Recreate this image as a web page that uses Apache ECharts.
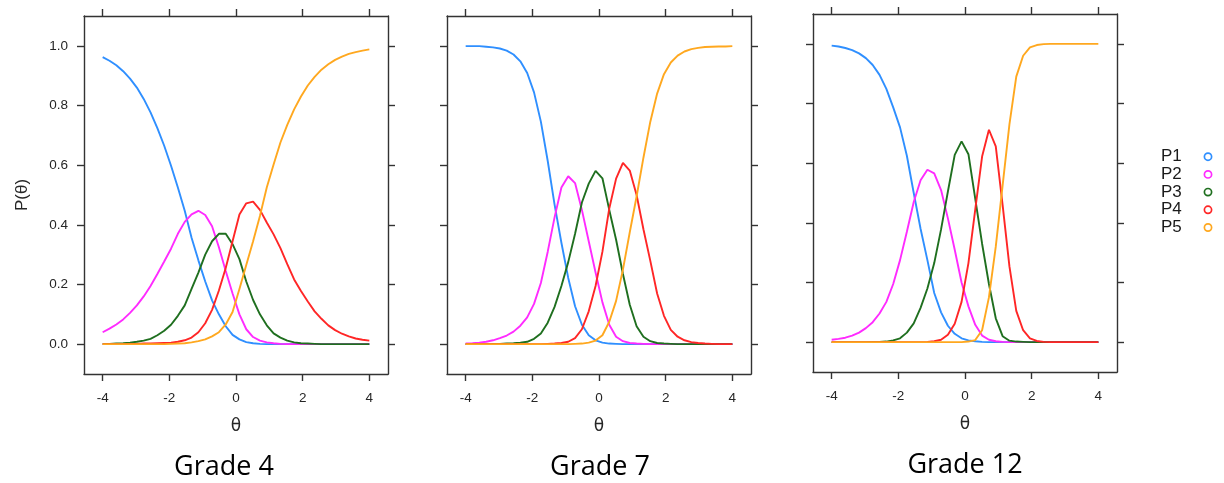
<!DOCTYPE html>
<html><head><meta charset="utf-8">
<script src="https://cdn.jsdelivr.net/npm/echarts@6/dist/echarts.min.js"></script>
<style>html,body{margin:0;padding:0;background:#fff}#c{width:1224px;height:483px}</style>
</head><body><div id="c"></div>
<script>
// theta grid (40 points from -4 to 4)
const theta = [-4.000,-3.795,-3.590,-3.385,-3.179,-2.974,-2.769,-2.564,-2.359,-2.154,-1.949,-1.744,-1.538,-1.333,-1.128,-0.923,-0.718,-0.513,-0.308,-0.103,0.103,0.308,0.513,0.718,0.923,1.128,1.333,1.538,1.744,1.949,2.154,2.359,2.564,2.769,2.974,3.179,3.385,3.590,3.795,4.000];
const xTicks = [-4, -2, 0, 2, 4];
const yTicks = [0, 0.2, 0.4, 0.6, 0.8, 1.0];
const seriesNames = ['P1', 'P2', 'P3', 'P4', 'P5'];
const panelTitles = ['Grade 4', 'Grade 7', 'Grade 12'];
const xTitle = 'θ';
const yTitle = 'P(θ)';

// Grade 4
const g4P1 = [0.962,0.950,0.935,0.915,0.890,0.860,0.822,0.777,0.724,0.665,0.598,0.525,0.447,0.357,0.281,0.210,0.147,0.100,0.060,0.031,0.016,0.007,0.003,0.001,0,0,0,0,0,0,0,0,0,0,0,0,0,0,0,0];
const g4P2 = [0.040,0.052,0.066,0.083,0.105,0.130,0.160,0.195,0.235,0.277,0.320,0.370,0.410,0.435,0.447,0.433,0.395,0.325,0.245,0.170,0.100,0.050,0.024,0.012,0.006,0.003,0.001,0,0,0,0,0,0,0,0,0,0,0,0,0];
const g4P3 = [0.001,0.001,0.002,0.003,0.005,0.008,0.012,0.018,0.030,0.045,0.065,0.095,0.130,0.185,0.240,0.300,0.345,0.370,0.370,0.335,0.285,0.210,0.148,0.100,0.063,0.036,0.022,0.012,0.006,0.003,0.002,0.001,0,0,0,0,0,0,0,0];
const g4P4 = [0,0,0,0,0.001,0.001,0.002,0.002,0.003,0.004,0.005,0.008,0.013,0.022,0.040,0.070,0.115,0.180,0.255,0.345,0.435,0.472,0.478,0.450,0.408,0.368,0.322,0.268,0.217,0.178,0.143,0.110,0.085,0.063,0.047,0.035,0.026,0.019,0.015,0.012];
const g4P5 = [0,0,0,0,0,0,0,0,0,0,0.001,0.002,0.003,0.006,0.010,0.016,0.026,0.040,0.066,0.108,0.185,0.265,0.345,0.430,0.525,0.602,0.676,0.735,0.787,0.830,0.867,0.896,0.920,0.938,0.953,0.964,0.973,0.979,0.984,0.988];

// Grade 7
const g7P1 = [0.999,0.999,0.999,0.997,0.995,0.991,0.984,0.971,0.948,0.909,0.844,0.746,0.614,0.468,0.340,0.222,0.127,0.065,0.030,0.013,0.005,0.002,0.001,0,0,0,0,0,0,0,0,0,0,0,0,0,0,0,0,0];
const g7P2 = [0.002,0.003,0.005,0.008,0.013,0.020,0.029,0.042,0.062,0.090,0.135,0.205,0.310,0.425,0.525,0.563,0.540,0.450,0.345,0.240,0.140,0.065,0.025,0.010,0.004,0.002,0.001,0,0,0,0,0,0,0,0,0,0,0,0,0];
const g7P3 = [0,0,0,0,0.001,0.001,0.002,0.003,0.005,0.008,0.018,0.036,0.072,0.125,0.195,0.275,0.370,0.475,0.538,0.581,0.556,0.450,0.350,0.235,0.132,0.060,0.025,0.010,0.004,0.002,0.001,0,0,0,0,0,0,0,0,0];
const g7P4 = [0,0,0,0,0,0,0,0,0,0,0,0,0.001,0.002,0.004,0.008,0.020,0.050,0.110,0.195,0.310,0.455,0.555,0.608,0.582,0.500,0.385,0.280,0.170,0.095,0.048,0.025,0.013,0.007,0.004,0.002,0.001,0,0,0];
const g7P5 = [0,0,0,0,0,0,0,0,0,0,0,0,0,0,0,0,0.001,0.002,0.005,0.012,0.030,0.075,0.145,0.250,0.375,0.495,0.625,0.745,0.840,0.905,0.944,0.967,0.981,0.989,0.993,0.996,0.997,0.998,0.998,0.999];

// Grade 12
const g12P1 = [0.994,0.991,0.986,0.979,0.968,0.952,0.929,0.896,0.849,0.787,0.720,0.625,0.500,0.380,0.275,0.165,0.100,0.055,0.028,0.013,0.006,0.003,0.001,0,0,0,0,0,0,0,0,0,0,0,0,0,0,0,0,0];
const g12P2 = [0.008,0.011,0.015,0.022,0.032,0.047,0.067,0.096,0.135,0.195,0.275,0.370,0.470,0.543,0.578,0.566,0.510,0.415,0.310,0.200,0.120,0.058,0.022,0.008,0.003,0.001,0,0,0,0,0,0,0,0,0,0,0,0,0,0];
const g12P3 = [0,0,0,0,0,0,0.001,0.001,0.002,0.006,0.013,0.032,0.063,0.115,0.180,0.265,0.378,0.505,0.628,0.673,0.630,0.480,0.330,0.195,0.080,0.020,0.005,0.002,0.001,0,0,0,0,0,0,0,0,0,0,0];
const g12P4 = [0,0,0,0,0,0,0,0,0,0,0,0,0,0,0.001,0.003,0.008,0.025,0.062,0.135,0.265,0.445,0.622,0.712,0.656,0.460,0.254,0.105,0.040,0.013,0.004,0.001,0,0,0,0,0,0,0,0];
const g12P5 = [0,0,0,0,0,0,0,0,0,0,0,0,0,0,0,0,0,0,0,0,0.002,0.007,0.040,0.150,0.320,0.525,0.730,0.890,0.960,0.988,0.996,0.999,1,1,1,1,1,1,1,1];

const panels = [
  [g4P1, g4P2, g4P3, g4P4, g4P5],
  [g7P1, g7P2, g7P3, g7P4, g7P5],
  [g12P1, g12P2, g12P3, g12P4, g12P5]
];

const colors = ['#2f8fff', '#ff2bff', '#1f6f1f', '#ff2626', '#ffa81f'];
const axisColor = '#333333';
const labelFont = 'Liberation Sans';

const gridBoxes = [
  {left: 84, top: 16, width: 304, height: 358},
  {left: 447, top: 16, width: 304, height: 358},
  {left: 813, top: 14, width: 304, height: 358}
];
const titleCenters = [[224, 467], [600, 467], [965, 465]];

const grid = gridBoxes.map(b => Object.assign({show: false, outerBoundsMode: 'none', containLabel: false}, b));
const xAxis = [], yAxis = [], series = [], graphic = [];

gridBoxes.forEach((b, p) => {
  ['bottom', 'top'].forEach(pos => {
    xAxis.push({
      type: 'value', gridIndex: p, position: pos, min: -4.56, max: 4.56,
      axisLine: {show: true, onZero: false, lineStyle: {color: axisColor, width: 1.4}},
      axisTick: {show: true, inside: false, length: 7, customValues: xTicks, lineStyle: {color: axisColor, width: 1.4}},
      axisLabel: {show: pos === 'bottom', customValues: xTicks, margin: 17, color: '#262626',
        fontFamily: labelFont, fontSize: 13.5, formatter: v => String(v)},
      splitLine: {show: false},
      name: pos === 'bottom' ? xTitle : '', nameLocation: 'middle', nameGap: 44,
      nameTextStyle: {color: '#262626', fontFamily: 'DejaVu Sans', fontSize: 17}
    });
  });
  ['left', 'right'].forEach(pos => {
    yAxis.push({
      type: 'value', gridIndex: p, position: pos, min: -0.1, max: 1.1,
      axisLine: {show: true, onZero: false, lineStyle: {color: axisColor, width: 1.4}},
      axisTick: {show: true, inside: false, length: 7, customValues: yTicks, lineStyle: {color: axisColor, width: 1.4}},
      axisLabel: {show: pos === 'left' && p === 0, customValues: yTicks, margin: 16, color: '#262626',
        fontFamily: labelFont, fontSize: 13.5, formatter: v => v.toFixed(1)},
      splitLine: {show: false},
      name: (pos === 'left' && p === 0) ? yTitle : '', nameLocation: 'middle', nameGap: 53,
      nameTextStyle: {color: '#262626', fontFamily: labelFont, fontSize: 17}
    });
  });
  panels[p].forEach((vals, s) => {
    series.push({
      type: 'line', name: seriesNames[s], xAxisIndex: 2 * p, yAxisIndex: 2 * p,
      data: theta.map((t, k) => [t, vals[k]]),
      showSymbol: false, symbol: 'none', smooth: false,
      lineStyle: {color: colors[s], width: 1.9}, itemStyle: {color: colors[s]},
      animation: false
    });
  });
  graphic.push({type: 'text', x: titleCenters[p][0], y: titleCenters[p][1],
    style: {text: panelTitles[p], font: '27px "Open Sans"', fill: '#000',
      align: 'center', verticalAlign: 'middle', textAlign: 'center', textVerticalAlign: 'middle'}});
});

seriesNames.forEach((n, i) => {
  const cy = 156.7 + i * 17.7;
  graphic.push({type: 'text', x: 1161, y: cy,
    style: {text: n, font: '17px "Liberation Sans"', fill: '#1a1a1a',
      align: 'left', verticalAlign: 'middle', textAlign: 'left', textVerticalAlign: 'middle'}});
  graphic.push({type: 'circle', shape: {cx: 1208, cy: cy, r: 3.6},
    style: {fill: 'none', stroke: colors[i], lineWidth: 1.7}});
});

const chart = echarts.init(document.getElementById('c'), null, {renderer: 'canvas'});
chart.setOption({
  animation: false,
  backgroundColor: '#fff',
  grid, xAxis, yAxis, series, graphic
});
</script>
</body></html>
